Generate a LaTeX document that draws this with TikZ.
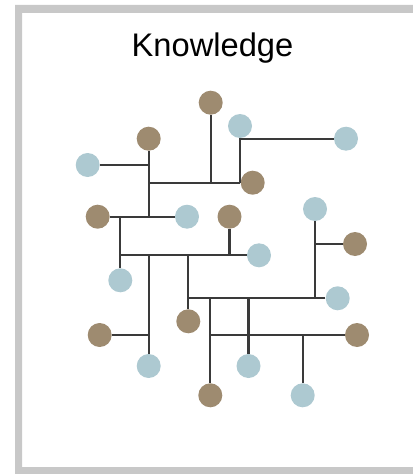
\documentclass[tikz,border=0pt]{standalone}
\usepackage{fontspec}
\setmainfont{Liberation Sans}
\usepackage{tikz}

\definecolor{framegray}{HTML}{C8C8C8}
\definecolor{claybrown}{HTML}{9E8B70}
\definecolor{paleblue}{HTML}{ADC9D1}
\definecolor{linkgray}{HTML}{3A3A3A}

\begin{document}
\begin{tikzpicture}[x=0.75pt, y=-0.75pt,
    dot/.style={circle, inner sep=0pt, minimum size=18pt},
    browndot/.style={dot, fill=claybrown},
    bluedot/.style={dot, fill=paleblue},
    link/.style={draw=linkgray, line width=1.75pt}]
            \useasboundingbox (0,0) rectangle (413,474);
            \clip (0,0) rectangle (413,474);
            \fill[framegray, even odd rule] (15,5) rectangle (430,490) (22,13) rectangle (420,467);
            \node[anchor=base, font=\fontsize{24.5}{29}\selectfont] (title) at (212.5,57) {Knowledge};
            \node[browndot] (b1) at (210.7,102.7) {};
            \node[bluedot] (l1) at (240,126) {};
            \node[bluedot] (l2) at (346,138.7) {};
            \node[browndot] (b2) at (148.7,138.7) {};
            \node[bluedot] (l3) at (87.7,165) {};
            \node[browndot] (b3) at (252.7,182.7) {};
            \node[browndot] (b4) at (97.7,216.7) {};
            \node[bluedot] (l4) at (187,216.7) {};
            \node[browndot] (b5) at (229.5,216.7) {};
            \node[bluedot] (l5) at (315,209) {};
            \node[browndot] (b6) at (355,244) {};
            \node[bluedot] (l6) at (259,255.3) {};
            \node[bluedot] (l7) at (120.3,280.3) {};
            \node[bluedot] (l8) at (337.7,298.3) {};
            \node[browndot] (b7) at (188.3,321.3) {};
            \node[browndot] (b8) at (99.7,335) {};
            \node[browndot] (b9) at (357,335) {};
            \node[bluedot] (l9) at (148.7,366) {};
            \node[bluedot] (l10) at (248.5,366) {};
            \node[browndot] (b10) at (210.3,395.3) {};
            \node[bluedot] (l11) at (302.7,395.3) {};
            \draw[link] (b1) -- (b1 |- b3);
            \draw[link] (b2 |- b3) -- (b3);
            \draw[link] (l1) -- (l1 |- b3);
            \draw[link] (l1 |- l2) -- (l2);
            \draw[link] (b2) -- (b2 |- b4);
            \draw[link] (l3) -- (l3 -| b2);
            \draw[link] (b4) -- (l4);
            \draw[link] (l7 |- b4) -- (l7);
            \draw[link] (l7 |- l6) -- (l6);
            \draw[link] (b5) -- (b5 |- l6);
            \draw[link] (l9 |- l6) -- (l9);
            \draw[link] (b8) -- (b8 -| l9);
            \draw[link] (b7 |- l6) -- (b7);
            \draw[link] (b7 |- l8) -- (l8);
            \draw[link] (l5) -- (l5 |- l8);
            \draw[link] (l5 |- b6) -- (b6);
            \draw[link] (b10 |- l8) -- (b10);
            \draw[link] (l10 |- l8) -- (l10);
            \draw[link] (b10 |- b9) -- (b9);
            \draw[link] (l11 |- b9) -- (l11);
        \end{tikzpicture}
\end{document}
